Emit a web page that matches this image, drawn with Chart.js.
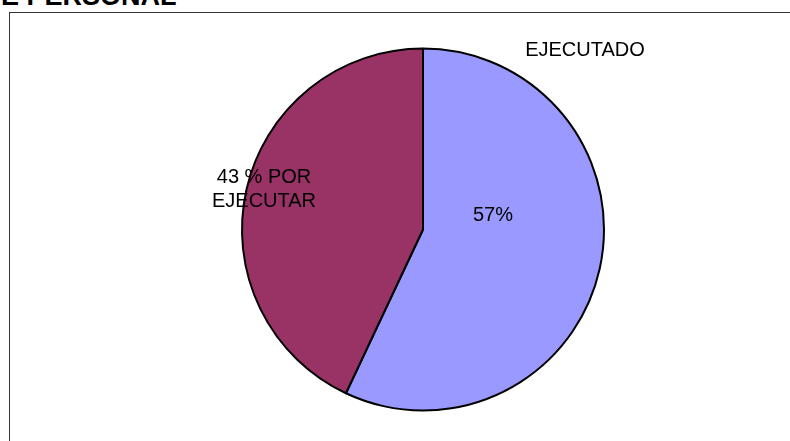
<!DOCTYPE html>
<html>
<head>
<meta charset="utf-8">
<script src="https://cdn.jsdelivr.net/npm/chart.js@4.4.0/dist/chart.umd.min.js"></script>
<style>
    body { margin: 0; background: #fff; font-family: "Liberation Sans", Arial, sans-serif; }
    #wrap { position: relative; width: 790px; height: 441px; overflow: hidden; }
    #title { position: absolute; left: 1px; top: -19px; font-size: 27px; font-weight: bold; color: #000; white-space: nowrap; }
    #frame { position: absolute; left: 9px; top: 12px; width: 800px; height: 460px; border: 1px solid #333; box-sizing: border-box; }
    canvas { position: absolute; left: 0; top: 0; }
</style>
</head>
<body>
<div id="wrap">
    <div id="title">E PERSONAL</div>
    <div id="frame"></div>
    <canvas id="pie" width="790" height="441"></canvas>
</div>
<script>
// Chart data
const categories = ["EJECUTADO", "POR EJECUTAR"];
const values = [57, 43];
const colors = ["#9999FF", "#993366"];

// Label text for each slice (written as in the original)
const sliceLabels = [
    { lines: ["57%"], dx: 70, dy: -14 },
    { lines: ["43 % POR", "EJECUTAR"], dx: -159, dy: -52 }
];
const nameLabel = { text: "EJECUTADO", dx: 162, dy: -179 };

// Draws the text labels around the pie
const labelPlugin = {
    id: "pieLabels",
    afterDatasetsDraw(chart) {
        const ctx = chart.ctx;
        const arc = chart.getDatasetMeta(0).data[0];
        const cx = arc.x, cy = arc.y;
        ctx.save();
        ctx.fillStyle = "#000";
        ctx.font = "20px 'Liberation Sans', Arial, sans-serif";
        ctx.textAlign = "center";
        ctx.textBaseline = "middle";
        sliceLabels.forEach(lbl => {
            lbl.lines.forEach((line, i) => {
                ctx.fillText(line, cx + lbl.dx, cy + lbl.dy + i * 24);
            });
        });
        ctx.fillText(nameLabel.text, cx + nameLabel.dx, cy + nameLabel.dy);
        ctx.restore();
    }
};

new Chart(document.getElementById("pie").getContext("2d"), {
    type: "pie",
    data: {
        labels: categories,
        datasets: [{
            data: values,
            backgroundColor: colors,
            borderColor: "#000",
            borderWidth: 2,
            radius: 181
        }]
    },
    options: {
        responsive: false,
        animation: false,
        layout: {
            padding: { left: 60, right: 4, top: 30, bottom: 12 }
        },
        plugins: {
            legend: { display: false },
            tooltip: { enabled: false }
        }
    },
    plugins: [labelPlugin]
});
</script>
</body>
</html>
